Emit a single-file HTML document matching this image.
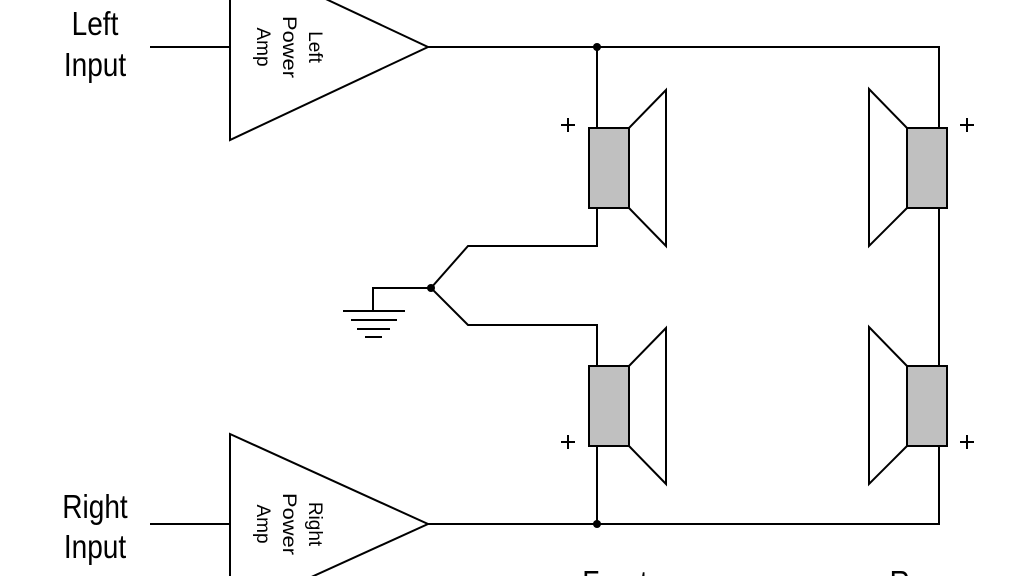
<!DOCTYPE html>
<html><head><meta charset="utf-8"><style>
html,body{margin:0;padding:0;background:#fff;width:1024px;height:576px;overflow:hidden}
svg{display:block;overflow:hidden}
text{font-family:"Liberation Sans",sans-serif;fill:#000}
</style></head><body>
<svg width="1024" height="576" viewBox="0 0 1024 576" xmlns="http://www.w3.org/2000/svg">
<g stroke="#000" stroke-width="2" fill="none">
<polygon points="230,-46 428,47 230,140"/>
<polygon points="230,434 428,524 230,614"/>
<line x1="150" y1="47" x2="230" y2="47"/>
<line x1="150" y1="524" x2="230" y2="524"/>
<polyline points="428,47 939,47 939,128"/>
<line x1="597" y1="47" x2="597" y2="128"/>
<polyline points="428,524 939,524 939,446"/>
<line x1="597" y1="524" x2="597" y2="446"/>
<line x1="939" y1="208" x2="939" y2="366"/>
<polyline points="597,208 597,246 468,246 431,288 468,325 597,325 597,366"/>
<polyline points="431,288 373,288 373,311"/>
<line x1="343" y1="311" x2="405" y2="311"/>
<line x1="351" y1="320" x2="397" y2="320"/>
<line x1="357" y1="329" x2="390" y2="329"/>
<line x1="365" y1="337" x2="382" y2="337"/>
<polyline points="629,128 666,90 666,246 629,208"/>
<polyline points="629,366 666,328 666,484 629,446"/>
<polyline points="907,128 869,89 869,246 907,208"/>
<polyline points="907,366 869,327 869,484 907,446"/>
<!-- plus signs -->
<path d="M561,125 h14 M568,118 v14"/>
<path d="M960,125 h14 M967,118 v14"/>
<path d="M561,442 h14 M568,435 v14"/>
<path d="M960,442 h14 M967,435 v14"/>
</g>
<g stroke="#000" stroke-width="2" fill="#c0c0c0">
<rect x="589" y="128" width="40" height="80"/>
<rect x="589" y="366" width="40" height="80"/>
<rect x="907" y="128" width="40" height="80"/>
<rect x="907" y="366" width="40" height="80"/>
</g>
<g fill="#000">
<circle cx="597" cy="47" r="4"/>
<circle cx="597" cy="524" r="4"/>
<circle cx="431" cy="288" r="4"/>
</g>
<g font-size="33" text-anchor="middle">
<text transform="translate(95,35) scale(0.85,1)">Left</text>
<text transform="translate(95,76) scale(0.85,1)">Input</text>
<text transform="translate(95,518) scale(0.85,1)">Right</text>
<text transform="translate(95,558) scale(0.85,1)">Input</text>
<text transform="translate(615,594) scale(0.85,1)">Front</text>
<text transform="translate(920,594) scale(0.85,1)">Rear</text>
</g>
<g font-size="19" text-anchor="middle">
<text transform="translate(316,47) rotate(90)" y="7">Left</text>
<text transform="translate(290,47) rotate(90)" y="7" textLength="62" lengthAdjust="spacingAndGlyphs">Power</text>
<text transform="translate(264,47) rotate(90)" y="7">Amp</text>
<text transform="translate(316,524) rotate(90)" y="7">Right</text>
<text transform="translate(290,524) rotate(90)" y="7" textLength="62" lengthAdjust="spacingAndGlyphs">Power</text>
<text transform="translate(264,524) rotate(90)" y="7">Amp</text>
</g>
</svg>
</body></html>
